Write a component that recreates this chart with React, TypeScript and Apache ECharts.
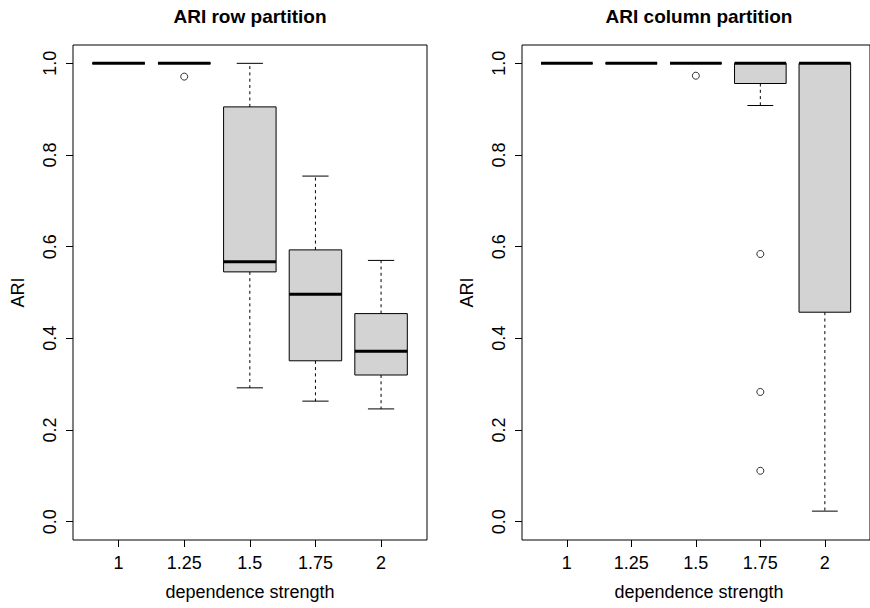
import React, { useEffect, useRef } from "react";
import * as echarts from "echarts";

// Dependence strengths on the x axis
const categories = ["1", "1.25", "1.5", "1.75", "2"];

// Box statistics per strength: [lower whisker, Q1, median, Q3, upper whisker]
const rowStats = [
  [1, 1, 1, 1, 1],
  [1, 1, 1, 1, 1],
  [0.292, 0.545, 0.567, 0.905, 1.0],
  [0.263, 0.351, 0.496, 0.593, 0.754],
  [0.246, 0.32, 0.372, 0.454, 0.57],
];
// Outliers: [strength index (1-based), ARI]
const rowOutliers = [[2, 0.971]];

const colStats = [
  [1, 1, 1, 1, 1],
  [1, 1, 1, 1, 1],
  [1, 1, 1, 1, 1],
  [0.908, 0.956, 1, 1, 1],
  [0.023, 0.457, 1, 1, 1],
];
const colOutliers = [
  [3, 0.973],
  [4, 0.584],
  [4, 0.283],
  [4, 0.111],
];

const yTicks = [0, 0.2, 0.4, 0.6, 0.8, 1.0];
const xTicks = [1, 2, 3, 4, 5];

const FONT = "'Liberation Sans', Arial, Helvetica, sans-serif";
const BOX_FILL = "#d3d3d3";
const INK = "#000";

function renderBox(params: any, api: any) {
  const x = api.value(0);
  const lo = api.value(1);
  const q1 = api.value(2);
  const med = api.value(3);
  const q3 = api.value(4);
  const hi = api.value(5);
  const cx = api.coord([x, med])[0];
  const py = (v: number) => api.coord([x, v])[1];
  const half = api.size([0.8, 0], [x, med])[0] / 2;
  const cap = half / 2;
  const children: any[] = [];
  const dashed = { stroke: INK, lineWidth: 1, lineDash: [3, 3.3] };
  const solid = { stroke: INK, lineWidth: 1 };
  if (hi > q3) {
    children.push({ type: "line", shape: { x1: cx, y1: py(q3), x2: cx, y2: py(hi) }, style: dashed });
  }
  if (lo < q1) {
    children.push({ type: "line", shape: { x1: cx, y1: py(q1), x2: cx, y2: py(lo) }, style: dashed });
  }
  children.push({ type: "line", shape: { x1: cx - cap, y1: py(hi), x2: cx + cap, y2: py(hi) }, style: solid });
  children.push({ type: "line", shape: { x1: cx - cap, y1: py(lo), x2: cx + cap, y2: py(lo) }, style: solid });
  children.push({
    type: "rect",
    shape: { x: cx - half, y: py(q3), width: half * 2, height: py(q1) - py(q3) },
    style: { fill: BOX_FILL, stroke: INK, lineWidth: 1 },
  });
  children.push({
    type: "line",
    shape: { x1: cx - half, y1: py(med), x2: cx + half, y2: py(med) },
    style: { stroke: INK, lineWidth: 3 },
  });
  return { type: "group", children };
}

function makeAxes(gridIndex: number) {
  const xAxis = {
    type: "value",
    gridIndex,
    position: "bottom",
    min: 0.305,
    max: 5.7,
    splitLine: { show: false },
    axisLine: { show: false, onZero: false },
    axisTick: { show: true, customValues: xTicks, length: 7, lineStyle: { color: INK } },
    axisLabel: {
      customValues: xTicks,
      formatter: (v: number) => categories[Math.round(v) - 1],
      color: INK,
      fontSize: 18,
      fontFamily: FONT,
      margin: 14,
    },
  };
  const yAxis = {
    type: "value",
    gridIndex,
    position: "left",
    min: -0.04,
    max: 1.04,
    splitLine: { show: false },
    axisLine: { show: false, onZero: false },
    axisTick: { show: true, customValues: yTicks, length: 7, lineStyle: { color: INK } },
    axisLabel: {
      customValues: yTicks,
      formatter: (v: number) => v.toFixed(1),
      rotate: 90,
      color: INK,
      fontSize: 18,
      fontFamily: FONT,
      margin: 14,
    },
  };
  return { xAxis, yAxis };
}

export default function App() {
  const ref = useRef<HTMLDivElement>(null);

  useEffect(() => {
    if (!ref.current) return;
    const chart = echarts.init(ref.current, undefined, { renderer: "svg" });
    const left = makeAxes(0);
    const right = makeAxes(1);
    const panels = [
      { title: "ARI row partition", x0: 73 },
      { title: "ARI column partition", x0: 522 },
    ];
    const gridW = 354;
    const gridTop = 45;
    const gridH = 495;

    const graphics: any[] = [];
    panels.forEach((p) => {
      graphics.push({
        type: "text",
        x: p.x0 + gridW / 2,
        y: 16,
        style: {
          text: p.title,
          fontSize: 19,
          fontWeight: "bold",
          fontFamily: FONT,
          fill: INK,
          align: "center",
          verticalAlign: "middle",
        },
      });
      graphics.push({
        type: "text",
        x: p.x0 + gridW / 2,
        y: 592,
        style: {
          text: "dependence strength",
          fontSize: 18,
          fontFamily: FONT,
          fill: INK,
          align: "center",
          verticalAlign: "middle",
        },
      });
      graphics.push({
        type: "text",
        x: p.x0 - 55,
        y: gridTop + gridH / 2,
        rotation: Math.PI / 2,
        style: {
          text: "ARI",
          fontSize: 18,
          fontFamily: FONT,
          fill: INK,
          align: "center",
          verticalAlign: "middle",
        },
      });
    });

    const outlierSeries = (data: number[][], idx: number) => ({
      type: "scatter",
      xAxisIndex: idx,
      yAxisIndex: idx,
      data,
      symbol: "circle",
      symbolSize: 7,
      itemStyle: { color: "#fff", borderColor: INK, borderWidth: 1 },
      z: 5,
    });

    chart.setOption({
      animation: false,
      backgroundColor: "#fff",
      textStyle: { fontFamily: FONT },
      grid: panels.map((p) => ({
        left: p.x0,
        top: gridTop,
        width: gridW,
        height: gridH,
        show: true,
        borderColor: INK,
        borderWidth: 1,
        backgroundColor: "transparent",
      })),
      xAxis: [left.xAxis, right.xAxis],
      yAxis: [left.yAxis, right.yAxis],
      graphic: graphics,
      series: [
        {
          type: "custom",
          xAxisIndex: 0,
          yAxisIndex: 0,
          clip: false,
          renderItem: renderBox,
          encode: { x: 0, y: [1, 2, 3, 4, 5] },
          data: rowStats.map((s, i) => [i + 1, ...s]),
        },
        {
          type: "custom",
          xAxisIndex: 1,
          yAxisIndex: 1,
          clip: false,
          renderItem: renderBox,
          encode: { x: 0, y: [1, 2, 3, 4, 5] },
          data: colStats.map((s, i) => [i + 1, ...s]),
        },
        outlierSeries(rowOutliers, 0),
        outlierSeries(colOutliers, 1),
      ],
    });
    return () => chart.dispose();
  }, []);

  return (
    <div
      ref={ref}
      style={{ position: "absolute", left: 0, top: 0, width: 870, height: 608 }}
    />
  );
}
